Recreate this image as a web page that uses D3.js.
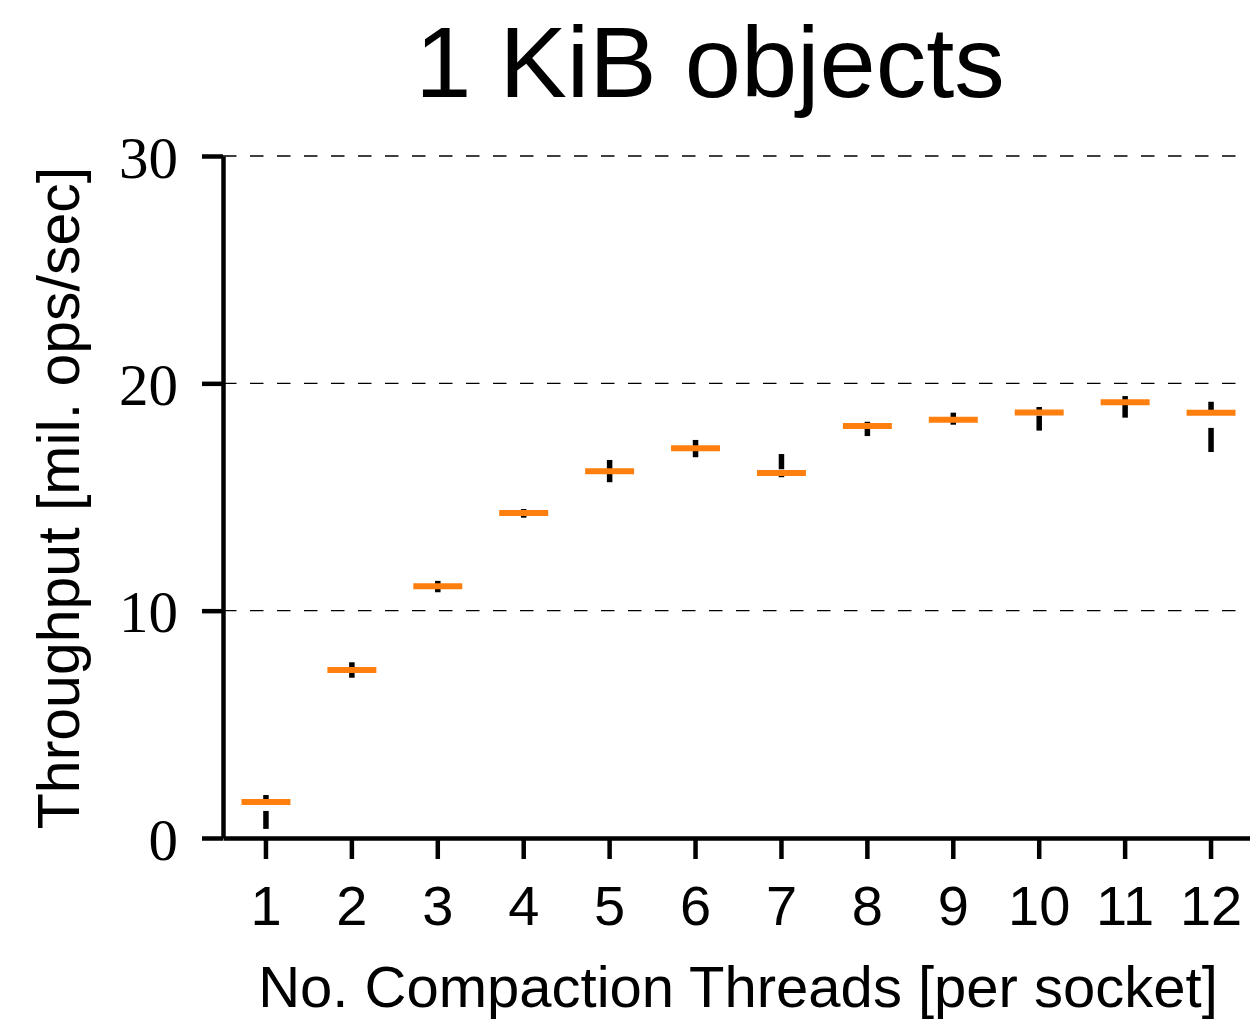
<!DOCTYPE html>
<html>
<head>
<meta charset="utf-8">
<script src="https://cdn.jsdelivr.net/npm/d3@7"></script>
<style>
  body { margin: 0; background: #fff; }
  svg { display: block; }
</style>
</head>
<body>
<div id="chart"></div>
<script>
// compaction threads per socket
const threads = [1, 2, 3, 4, 5, 6, 7, 8, 9, 10, 11, 12];
// box stats, mil. ops/sec
const whiskerLow = [0.40, 7.05, 10.81, 14.09, 15.65, 16.75, 15.87, 17.68, 18.18, 17.92, 18.49, 16.98];
const q1 = [1.19, 7.30, 11.00, 14.25, 16.05, 17.05, 15.98, 18.00, 18.33, 18.58, 19.05, 18.04];
const median = [1.58, 7.39, 11.07, 14.30, 16.13, 17.14, 16.06, 18.12, 18.40, 18.72, 19.17, 18.71];
const q3 = [1.70, 7.45, 11.12, 14.35, 16.20, 17.20, 16.22, 18.20, 18.47, 18.80, 19.25, 18.83];
const whiskerHigh = [1.89, 7.73, 11.31, 14.47, 16.63, 17.51, 16.89, 18.31, 18.71, 18.96, 19.44, 19.19];
const yTicks = [0, 10, 20, 30];
const gridTicks = [10, 20, 30];

const width = 1250, height = 1020;
const plotLeft = 223, plotRight = 1254, plotTop = 156, plotBottom = 838;

const svg = d3.select('#chart').append('svg')
  .attr('width', width)
  .attr('height', height);

const x = d3.scaleBand().domain(threads).range([plotLeft, plotRight]);
const y = d3.scaleLinear().domain([0, 30]).range([plotBottom, plotTop]);

const rows = threads.map((t, i) => ({
  t, lo: whiskerLow[i], q1: q1[i], med: median[i], q3: q3[i], hi: whiskerHigh[i]
}));

// dashed grid
svg.append('g').selectAll('line')
  .data(gridTicks)
  .join('line')
  .attr('x1', plotLeft).attr('x2', plotRight - 12)
  .attr('y1', d => y(d)).attr('y2', d => y(d))
  .attr('stroke', '#000')
  .attr('stroke-width', 1.3)
  .attr('stroke-dasharray', '13.5,13.5');

// whiskers
const cx = d => x(d.t) + x.bandwidth() / 2;
const boxes = svg.append('g');
boxes.selectAll('line.up')
  .data(rows)
  .join('line')
  .attr('class', 'up')
  .attr('x1', cx).attr('x2', cx)
  .attr('y1', d => y(d.q3)).attr('y2', d => y(d.hi))
  .attr('stroke', '#000').attr('stroke-width', 5.5);
boxes.selectAll('line.down')
  .data(rows)
  .join('line')
  .attr('class', 'down')
  .attr('x1', cx).attr('x2', cx)
  .attr('y1', d => y(d.q1)).attr('y2', d => y(d.lo))
  .attr('stroke', '#000').attr('stroke-width', 5.5);

// medians
const halfW = x.bandwidth() * 0.285;
boxes.selectAll('line.med')
  .data(rows)
  .join('line')
  .attr('class', 'med')
  .attr('x1', d => cx(d) - halfW).attr('x2', d => cx(d) + halfW)
  .attr('y1', d => y(d.med)).attr('y2', d => y(d.med))
  .attr('stroke', '#ff7f0e').attr('stroke-width', 6);

// axes
const yAxis = svg.append('g')
  .attr('transform', `translate(${plotLeft},0)`)
  .call(d3.axisLeft(y).tickValues(yTicks).tickSize(21).tickSizeOuter(0).tickPadding(24));
yAxis.select('.domain').attr('stroke-width', 4.5);
yAxis.selectAll('.tick line').attr('stroke-width', 4.5);
yAxis.selectAll('.tick text')
  .attr('font-family', '"Liberation Serif", serif')
  .attr('font-size', 59)
  .attr('fill', '#000')
  .attr('dy', '0.36em');

const xAxis = svg.append('g')
  .attr('transform', `translate(0,${plotBottom})`)
  .call(d3.axisBottom(x).tickSize(21).tickSizeOuter(0).tickPadding(26));
xAxis.select('.domain').attr('stroke-width', 4.5);
xAxis.selectAll('.tick line').attr('stroke-width', 4.5);
xAxis.selectAll('.tick text')
  .attr('font-family', '"Liberation Sans", sans-serif')
  .attr('font-size', 56)
  .attr('fill', '#000');

// labels
svg.append('text')
  .attr('x', 710).attr('y', 97)
  .attr('text-anchor', 'middle')
  .attr('font-family', '"Liberation Sans", sans-serif')
  .attr('font-size', 101)
  .text('1 KiB objects');

svg.append('text')
  .attr('x', 738).attr('y', 1007)
  .attr('text-anchor', 'middle')
  .attr('font-family', '"Liberation Sans", sans-serif')
  .attr('font-size', 58)
  .text('No. Compaction Threads [per socket]');

svg.append('text')
  .attr('transform', 'translate(79,498) rotate(-90)')
  .attr('text-anchor', 'middle')
  .attr('font-family', '"Liberation Sans", sans-serif')
  .attr('font-size', 59)
  .text('Throughput [mil. ops/sec]');
</script>
</body>
</html>
